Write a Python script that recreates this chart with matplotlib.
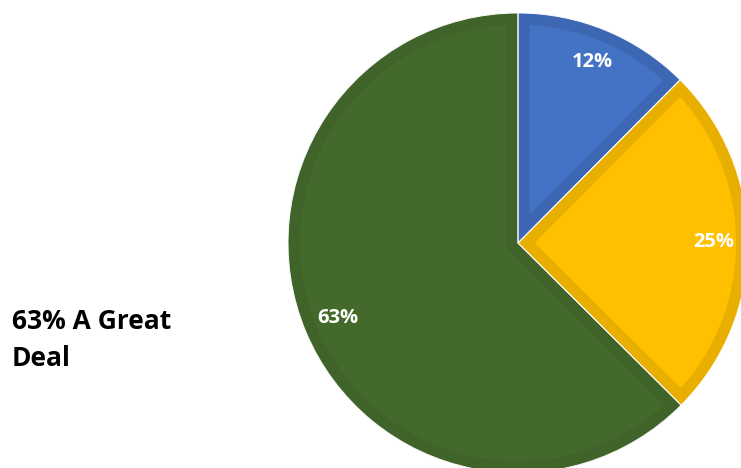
import matplotlib
matplotlib.use("Agg")
import matplotlib.pyplot as plt

categories = ["A Little", "Some", "A Great Deal"]
shares = [12.45, 25.0, 62.55]
fill_colors = ["#4472C4", "#FFC000", "#446A2B"]
edge_colors = ["#3D66B3", "#E8AE00", "#3F6328"]
side_note = "63% A Great\nDeal"

W, H = 741, 468
fig = plt.figure(figsize=(W / 100, H / 100), dpi=100)
ax = fig.add_axes([0, 0, 1, 1])

wedges, texts, autotexts = ax.pie(
    shares,
    colors=fill_colors,
    startangle=90,
    counterclock=False,
    center=(518, 225),
    radius=230,
    autopct="%1.0f%%",
    pctdistance=0.85,
    frame=True,
    wedgeprops=dict(linewidth=0),
    textprops=dict(color="white", fontsize=14.5, fontweight="bold",
                   family="Open Sans"),
)
ax.set_xlim(0, W)
ax.set_ylim(0, H)
ax.set_aspect("equal")
ax.axis("off")

# darker inner band on every slice, clipped to the slice itself
for w, ec in zip(wedges, edge_colors):
    band = matplotlib.patches.Wedge(w.center, w.r, w.theta1, w.theta2,
                                    facecolor="none", edgecolor=ec,
                                    linewidth=17, zorder=w.get_zorder() + 0.1)
    ax.add_patch(band)
    band.set_clip_path(w)
    sep = matplotlib.patches.Wedge(w.center, w.r, w.theta1, w.theta2,
                                   facecolor="none", edgecolor="white",
                                   linewidth=0.7, zorder=w.get_zorder() + 0.2)
    ax.add_patch(sep)
for t in autotexts:
    t.set_zorder(5)

fig.text(12 / W, 1 - 340 / H, side_note, fontsize=19, fontweight="bold",
         family="Open Sans", color="black", ha="left", va="center",
         linespacing=1.5)

fig.savefig("out.png", dpi=100)
